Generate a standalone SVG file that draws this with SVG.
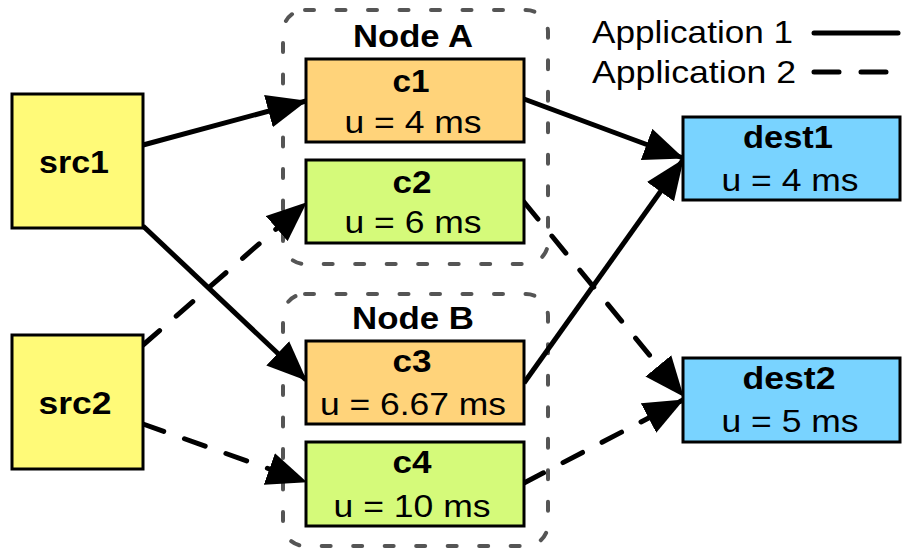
<svg xmlns="http://www.w3.org/2000/svg" width="902" height="549" viewBox="0 0 902 549">
<style>
text{font-family:"Liberation Sans",Arial,sans-serif;fill:#000;text-anchor:middle}
.t{font-weight:bold;font-size:31px}
.v{font-size:31px}
.lg{font-size:32px;text-anchor:start}
.box{stroke:#000;stroke-width:3}
.src{fill:#FFFA78}
.org{fill:#FFD37A}
.grn{fill:#D5FA7A}
.dst{fill:#79D3FF}
.grp{fill:none;stroke:#555;stroke-width:4;stroke-dasharray:9 22.5;stroke-linecap:round}
.c{fill:none;stroke:#000;stroke-width:5}
.d{stroke-dasharray:22 22;stroke-linecap:round}
</style>
<defs>
<marker id="ah" markerUnits="userSpaceOnUse" markerWidth="40" markerHeight="34" viewBox="0 0 36 30" refX="35" refY="15" orient="auto">
<path d="M0,0 L36,15 L0,30 Z" fill="#000"/>
</marker>
</defs>
<g id="nodeA"><rect class="grp" x="283" y="10" width="265" height="254" rx="22"/><text class="t" x="413" y="47" textLength="120" lengthAdjust="spacingAndGlyphs">Node A</text></g>
<g id="nodeB"><rect class="grp" x="283" y="294" width="265" height="252" rx="22"/><text class="t" x="413" y="329" textLength="122" lengthAdjust="spacingAndGlyphs">Node B</text></g>
<g id="connectors">
<line class="c" x1="143" y1="145" x2="306" y2="101" marker-end="url(#ah)"/>
<line class="c" x1="143" y1="226" x2="306" y2="380" marker-end="url(#ah)"/>
<line class="c d" x1="143" y1="345" x2="306" y2="203" marker-end="url(#ah)"/>
<line class="c d" x1="143" y1="424" x2="306" y2="482" marker-end="url(#ah)"/>
<line class="c" x1="524" y1="99" x2="683" y2="158" marker-end="url(#ah)"/>
<line class="c" x1="524" y1="383" x2="683" y2="160" marker-end="url(#ah)"/>
<line class="c d" x1="524" y1="202" x2="683" y2="396" marker-end="url(#ah)"/>
<line class="c d" x1="524" y1="483" x2="683" y2="400" marker-end="url(#ah)"/>
</g>
<g id="src1"><rect class="box src" x="12" y="94" width="131" height="134"/><text class="t" x="74" y="173" textLength="70" lengthAdjust="spacingAndGlyphs">src1</text></g>
<g id="src2"><rect class="box src" x="12" y="335" width="131" height="134"/><text class="t" x="75" y="414" textLength="73" lengthAdjust="spacingAndGlyphs">src2</text></g>
<g id="c1"><rect class="box org" x="306" y="59" width="218" height="83"/><text class="t" x="411" y="92" textLength="37" lengthAdjust="spacingAndGlyphs">c1</text><text class="v" x="413" y="133" textLength="137" lengthAdjust="spacingAndGlyphs">u = 4 ms</text></g>
<g id="c2"><rect class="box grn" x="306" y="160" width="218" height="83"/><text class="t" x="412" y="193" textLength="39" lengthAdjust="spacingAndGlyphs">c2</text><text class="v" x="413" y="233" textLength="137" lengthAdjust="spacingAndGlyphs">u = 6 ms</text></g>
<g id="c3"><rect class="box org" x="306" y="341" width="218" height="83"/><text class="t" x="412" y="372" textLength="39" lengthAdjust="spacingAndGlyphs">c3</text><text class="v" x="413" y="415" textLength="186" lengthAdjust="spacingAndGlyphs">u = 6.67 ms</text></g>
<g id="c4"><rect class="box grn" x="306" y="442" width="218" height="84"/><text class="t" x="412" y="473" textLength="39" lengthAdjust="spacingAndGlyphs">c4</text><text class="v" x="412" y="517" textLength="157" lengthAdjust="spacingAndGlyphs">u = 10 ms</text></g>
<g id="dest1"><rect class="box dst" x="683" y="117" width="217" height="83"/><text class="t" x="788" y="148" textLength="90" lengthAdjust="spacingAndGlyphs">dest1</text><text class="v" x="790" y="191" textLength="137" lengthAdjust="spacingAndGlyphs">u = 4 ms</text></g>
<g id="dest2"><rect class="box dst" x="683" y="358" width="217" height="84"/><text class="t" x="789" y="389" textLength="93" lengthAdjust="spacingAndGlyphs">dest2</text><text class="v" x="790" y="432" textLength="137" lengthAdjust="spacingAndGlyphs">u = 5 ms</text></g>
<g id="legend">
<text class="lg" x="592" y="43" textLength="201" lengthAdjust="spacingAndGlyphs">Application 1</text>
<line x1="814" y1="33" x2="898" y2="33" stroke="#000" stroke-width="5" stroke-linecap="round"/>
<text class="lg" x="592" y="83" textLength="204" lengthAdjust="spacingAndGlyphs">Application 2</text>
<line x1="814" y1="72" x2="888" y2="72" stroke="#000" stroke-width="5" stroke-linecap="round" stroke-dasharray="25 22"/>
</g>
</svg>
